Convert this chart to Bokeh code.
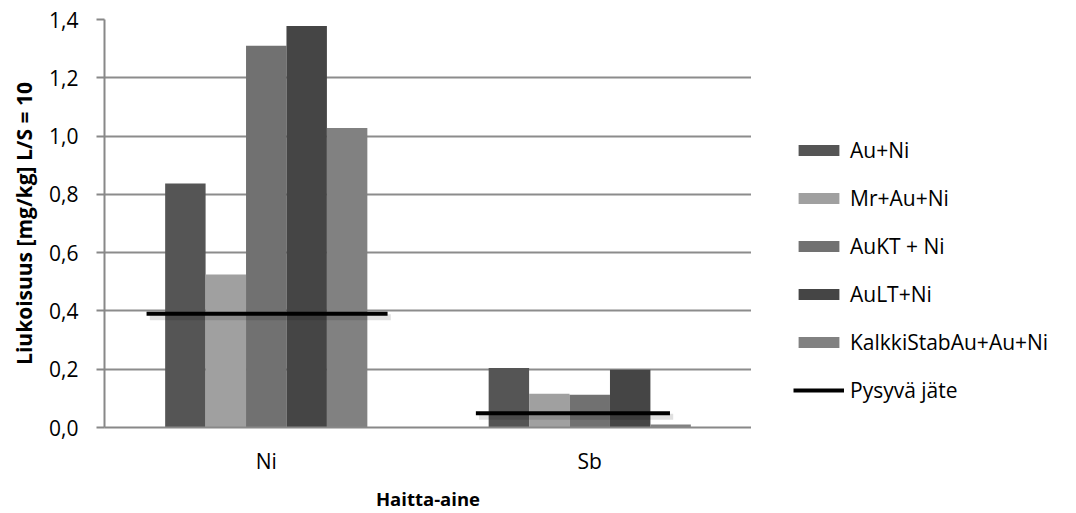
from bokeh.plotting import figure
from bokeh.layouts import row
from bokeh.models import (ColumnDataSource, FactorRange, Range1d, FixedTicker,
                          CustomJSTickFormatter, Legend, LegendItem)
from bokeh.transform import dodge
from bokeh.embed import file_html
from bokeh.resources import INLINE

# ---- data ----
categories = ["Ni", "Sb"]
series_names = ["Au+Ni", "Mr+Au+Ni", "AuKT + Ni", "AuLT+Ni", "KalkkiStabAu+Au+Ni"]
au_ni = [0.837, 0.204]
mr_au_ni = [0.525, 0.116]
aukt_ni = [1.31, 0.112]
ault_ni = [1.378, 0.198]
kalkki_au_ni = [1.028, 0.01]
limit_name = "Pysyvä jäte"
pysyva_jate = [0.39, 0.049]
pysyva_start = [-0.37, -0.352]
pysyva_end = [0.375, 0.248]
y_ticks = [0, 0.2, 0.4, 0.6, 0.8, 1.0, 1.2, 1.4]

series_values = [au_ni, mr_au_ni, aukt_ni, ault_ni, kalkki_au_ni]
colors = ["#555555", "#a0a0a0", "#717171", "#454545", "#818181"]
bar_w = 0.125
offsets = [(i - 2) * bar_w for i in range(5)]

FONT = "Open Sans"
FS = "21px"

p = figure(width=751, height=513, output_backend="svg", toolbar_location=None,
           x_range=FactorRange(*categories, range_padding=0),
           y_range=Range1d(0, 1.4),
           min_border_left=104, min_border_right=0, min_border_top=19,
           min_border_bottom=86)
p.outline_line_color = None

src = ColumnDataSource(dict(cat=categories, s0=au_ni, s1=mr_au_ni, s2=aukt_ni,
                            s3=ault_ni, s4=kalkki_au_ni))

for i, col in enumerate(colors):
    p.vbar(x=dodge("cat", offsets[i], range=p.x_range), top="s%d" % i,
           width=bar_w, source=src, fill_color=col, line_color=None)

# limit line segments with a soft shadow
for k in range(len(categories)):
    s = ColumnDataSource(dict(cat=[categories[k]], lim=[pysyva_jate[k]],
                              sh=[pysyva_jate[k] - 0.012]))
    p.segment(x0=dodge("cat", pysyva_start[k] + 0.01, range=p.x_range),
              x1=dodge("cat", pysyva_end[k] + 0.01, range=p.x_range),
              y0="sh", y1="sh", source=s, line_color="#000000", line_alpha=0.12,
              line_width=6)
    p.segment(x0=dodge("cat", pysyva_start[k], range=p.x_range),
              x1=dodge("cat", pysyva_end[k], range=p.x_range),
              y0="lim", y1="lim", source=s, line_color="#000000", line_width=4)

# axes
p.yaxis.ticker = FixedTicker(ticks=y_ticks)
p.yaxis.formatter = CustomJSTickFormatter(code="return tick.toFixed(1).replace('.', ',');")
p.yaxis.axis_line_color = "#888888"
p.yaxis.axis_line_width = 2
p.yaxis.major_tick_line_color = "#888888"
p.yaxis.major_tick_line_width = 2
p.yaxis.major_tick_out = 8
p.yaxis.major_tick_in = 0
p.yaxis.minor_tick_line_color = None
p.yaxis.major_label_standoff = 18
p.yaxis.major_label_text_font = FONT
p.yaxis.major_label_text_font_size = FS
p.yaxis.major_label_text_color = "#000000"
p.yaxis.axis_label = "Liukoisuus [mg/kg] L/S = 10"
p.yaxis.axis_label_text_font = FONT
p.yaxis.axis_label_text_font_size = "21px"
p.yaxis.axis_label_text_font_style = "bold"
p.yaxis.axis_label_text_color = "#000000"
p.yaxis.axis_label_standoff = 8

p.xaxis.axis_line_color = "#888888"
p.xaxis.axis_line_width = 2
p.xaxis.major_tick_line_color = None
p.xaxis.minor_tick_line_color = None
p.xaxis.major_label_standoff = 13
p.xaxis.major_label_text_font = FONT
p.xaxis.major_label_text_font_size = FS
p.xaxis.major_label_text_color = "#000000"
p.xaxis.axis_label = "Haitta-aine"
p.xaxis.axis_label_text_font = FONT
p.xaxis.axis_label_text_font_size = "18.5px"
p.xaxis.axis_label_text_font_style = "bold"
p.xaxis.axis_label_text_color = "#000000"
p.xaxis.axis_label_standoff = 8

p.xgrid.grid_line_color = None
p.ygrid.ticker = FixedTicker(ticks=y_ticks)
p.ygrid.grid_line_color = "#8c8c8c"
p.ygrid.grid_line_width = 2

# legend figure (separate panel on the right; borders match the main plot)
lf = figure(width=325, height=513, output_backend="svg", toolbar_location=None,
            x_range=Range1d(0, 1), y_range=Range1d(0, 1),
            min_border_left=0, min_border_right=0, min_border_top=19,
            min_border_bottom=86)
lf.axis.visible = False
lf.grid.visible = False
lf.outline_line_color = None

# off-screen dummy renderers, only used to draw legend swatches
dummy = ColumnDataSource(dict(x=[5, 6], top=[0, 0], y=[-5, -5]))
items = []
for name, col in zip(series_names, colors):
    r = lf.vbar(x="x", top="top", width=0.1, source=dummy, fill_color=col,
                line_color=None)
    items.append(LegendItem(label=name, renderers=[r]))
lr = lf.line(x="x", y="y", source=dummy, line_color="#000000", line_width=4)
items.append(LegendItem(label=limit_name, renderers=[lr]))

legend = Legend(items=items, location=(42, 23), orientation="vertical",
                glyph_width=51, glyph_height=14, label_height=20, spacing=20,
                label_standoff=6, padding=0, margin=0,
                border_line_color=None, background_fill_alpha=0,
                label_text_font=FONT, label_text_font_size=FS,
                label_text_color="#000000")
lf.add_layout(legend, "center")

layout = row(p, lf, spacing=0)
open("out.html", "w").write(file_html(layout, INLINE))
